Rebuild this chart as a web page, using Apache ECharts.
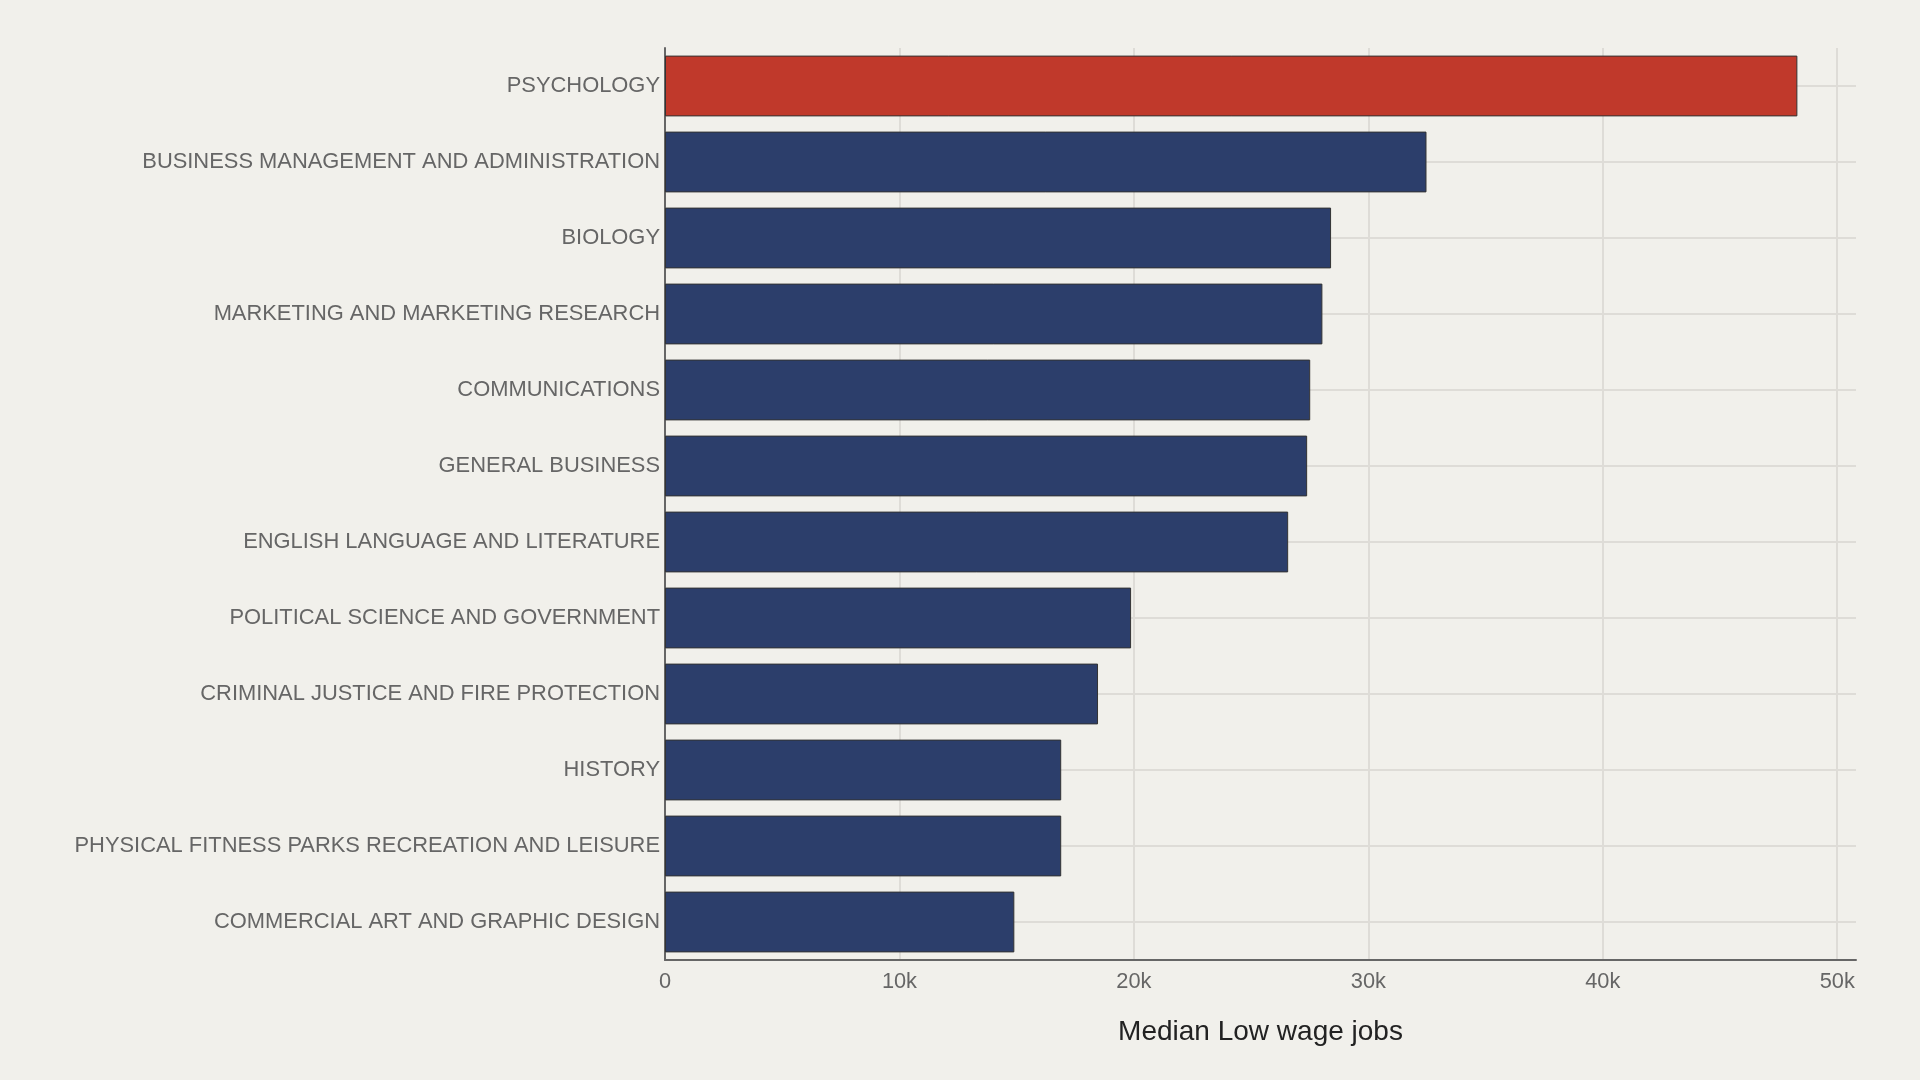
<!DOCTYPE html>
<html>
<head>
<meta charset="utf-8">
<script src="https://cdn.jsdelivr.net/npm/echarts@6/dist/echarts.min.js"></script>
<style>
  html, body { margin: 0; padding: 0; background: #f1f0eb; }
  #main { width: 1920px; height: 1080px; }
</style>
</head>
<body>
<div id="main"></div>
<script>
// majors, top to bottom
const majors = [
  'PSYCHOLOGY',
  'BUSINESS MANAGEMENT AND ADMINISTRATION',
  'BIOLOGY',
  'MARKETING AND MARKETING RESEARCH',
  'COMMUNICATIONS',
  'GENERAL BUSINESS',
  'ENGLISH LANGUAGE AND LITERATURE',
  'POLITICAL SCIENCE AND GOVERNMENT',
  'CRIMINAL JUSTICE AND FIRE PROTECTION',
  'HISTORY',
  'PHYSICAL FITNESS PARKS RECREATION AND LEISURE',
  'COMMERCIAL ART AND GRAPHIC DESIGN'
];
// median low wage jobs
const lowWageJobs = [48300, 32480, 28410, 28040, 27520, 27390, 26580, 19880, 18470, 16900, 16900, 14900];
const highlighted = ['PSYCHOLOGY'];

const chart = echarts.init(document.getElementById('main'));

const fontFamily = '"Liberation Sans", Arial, sans-serif';

let option = {
  backgroundColor: '#f1f0eb',
  animation: false,
  grid: {
    left: 665,
    right: 64,
    top: 48,
    bottom: 120
  },
  xAxis: {
    type: 'value',
    min: 0,
    max: 50800,
    interval: 10000,
    name: 'Median Low wage jobs',
    nameLocation: 'middle',
    nameGap: 58,
    nameTextStyle: { color: '#222', fontSize: 28, fontFamily: fontFamily },
    axisLine: { show: true, lineStyle: { color: '#666', width: 2 } },
    axisTick: { show: false },
    axisLabel: {
      color: '#666',
      fontSize: 21.8,
      fontFamily: fontFamily,
      margin: 11,
      showMaxLabel: false,
      formatter: function (v) {
        if (v % 10000 !== 0) return '';
        return v === 0 ? '0' : (v / 1000) + 'k';
      }
    },
    splitLine: {
      show: true,
      // last line is the axis max, which has no gridline in the original
      lineStyle: {
        color: ['#dedcd7', '#dedcd7', '#dedcd7', '#dedcd7', '#dedcd7', '#dedcd7', 'rgba(0,0,0,0)'],
        width: 2
      }
    }
  },
  yAxis: {
    type: 'category',
    data: majors,
    inverse: true,
    axisLine: { show: true, lineStyle: { color: '#666', width: 2 } },
    axisTick: { show: false },
    axisLabel: {
      color: '#666',
      fontSize: 21.9,
      fontFamily: fontFamily,
      margin: 5,
      padding: [3, 0, 0, 0]
    },
    splitLine: {
      show: true,
      alignWithLabel: true,
      lineStyle: { color: '#dedcd7', width: 2 }
    }
  },
  series: [{
    type: 'bar',
    barCategoryGap: '20%',
    data: lowWageJobs.map(function (v, i) {
      return {
        value: v,
        itemStyle: {
          color: highlighted.indexOf(majors[i]) >= 0 ? '#c0392b' : '#2c3e6b'
        }
      };
    }),
    itemStyle: {
      borderColor: '#333',
      borderWidth: 1
    }
  }]
};

chart.setOption(option);
</script>
</body>
</html>
